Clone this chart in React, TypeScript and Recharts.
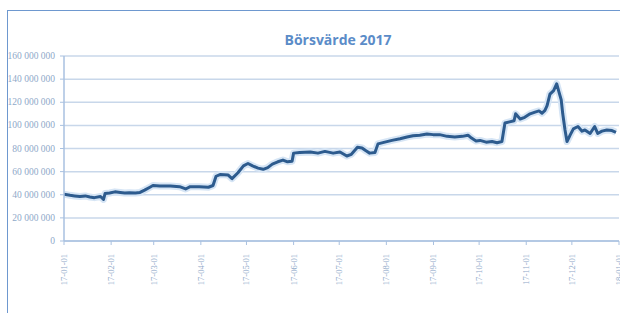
import React from 'react';
import { LineChart, Line, XAxis, YAxis, CartesianGrid } from 'recharts';

// Day of year (0 = 2017-01-01) and market value (SEK)
const days = [0, 4, 7, 10.5, 14, 17, 20, 24, 26, 27, 30, 33.5, 37, 40, 43, 47, 50, 53, 56.5, 58.5, 63, 70, 76, 80, 83, 89, 95, 98, 100, 102.6, 108, 110.5, 114.4, 118, 121, 124, 127.6, 131, 134, 137, 140.6, 144, 147, 150, 151, 155, 162, 167, 171.6, 177, 181.5, 186, 189, 193, 196, 198.6, 201, 204.5, 206.5, 211, 215.7, 221, 225.6, 229.5, 234, 238.7, 242.7, 247, 252, 257, 262, 265.7, 268, 271, 273.6, 277.6, 281.5, 284.8, 288, 290, 293, 296, 297, 300, 303, 306.5, 309.8, 312.4, 314.4, 316.3, 317.7, 319.6, 322, 324, 325.5, 327, 328, 329.5, 330.8, 333, 335, 338, 340.7, 342.6, 346, 349, 351, 353.8, 357, 360.4, 363];
const valuesM = [40.5, 39.5, 39, 38.5, 39, 38, 37.5, 38.5, 36, 41, 41.5, 42.5, 42, 41.5, 41.8, 41.5, 42, 44, 46.5, 48, 47.5, 47.5, 47, 45, 47, 47, 46.5, 48, 56, 57.5, 57, 54, 59, 65, 67, 65, 63, 62, 63.5, 66.5, 68.5, 70, 68.5, 69, 76, 76.5, 77, 76, 77.5, 76, 77, 73.5, 75, 81, 80.5, 78, 76, 76.5, 84, 85.5, 87, 88.5, 90, 91, 91.5, 92.5, 92, 92, 90.5, 90, 90.5, 91.5, 89, 86.5, 87, 85.5, 86, 85, 86, 102, 103, 104, 110, 105.5, 107, 110, 111.5, 112.5, 110.5, 113, 117, 127, 130, 136, 129, 122, 110, 96, 86, 92, 97, 99, 95, 96, 93, 99, 93, 95, 96, 95.5, 94];

const monthTicks = [0, 31, 59, 90, 120, 151, 181, 212, 243, 273, 304, 334, 365];
const monthLabels = ['17-01-01', '17-02-01', '17-03-01', '17-04-01', '17-05-01', '17-06-01', '17-07-01', '17-08-01', '17-09-01', '17-10-01', '17-11-01', '17-12-01', '18-01-01'];
const yTicks = [0, 20000000, 40000000, 60000000, 80000000, 100000000, 120000000, 140000000, 160000000];

const data = days.map((d, i) => ({ day: d, value: valuesM[i] * 1000000 }));

const fmtY = (v: number) => String(v).replace(/\B(?=(\d{3})+(?!\d))/g, ' ');

const XTick = (props: any) => {
  const { x, y, payload } = props;
  const idx = monthTicks.indexOf(payload.value);
  return (
    <text
      x={0}
      y={0}
      transform={`translate(${x + 3},${y + 7}) rotate(-90)`}
      textAnchor="end"
      fontSize={8.5}
      fill="#8FA9C9"
      fontFamily="Liberation Serif, serif"
    >
      {idx >= 0 ? monthLabels[idx] : ''}
    </text>
  );
};

const YTick = (props: any) => {
  const { x, y, payload } = props;
  return (
    <text x={x - 3} y={y + 3} textAnchor="end" fontSize={9.5} fill="#8FA9C9" fontFamily="Liberation Serif, serif">
      {fmtY(payload.value)}
    </text>
  );
};

export default function App() {
  return (
    <div style={{ position: 'fixed', left: 0, top: 0, width: 620, height: 313, background: '#fff', overflow: 'hidden' }}>
      <div style={{ position: 'absolute', left: 7, top: 10, width: 620, height: 310, borderTop: '1.5px solid #6E98CF', borderLeft: '1.5px solid #6E98CF' }} />
      <div style={{ position: 'absolute', left: 0, top: 0 }}>
        <LineChart width={620} height={313} data={data} margin={{ top: 56, right: 1, bottom: 0, left: 0 }}>
          <text x={338} y={45} textAnchor="middle" fontSize={14} fontWeight="bold" fill="#5B8CC8" fontFamily="Open Sans, sans-serif">
            Börsvärde 2017
          </text>
          <CartesianGrid vertical={false} stroke="#C8D7EA" strokeWidth={1.5} />
          <XAxis
            dataKey="day"
            type="number"
            domain={[0, 365]}
            ticks={monthTicks}
            interval={0}
            height={72}
            tick={<XTick />}
            axisLine={{ stroke: '#A9C1E0', strokeWidth: 1.5 }}
            tickLine={{ stroke: '#A9C1E0' }}
            tickSize={4}
            allowDataOverflow
          />
          <YAxis
            type="number"
            domain={[0, 160000000]}
            ticks={yTicks}
            interval={0}
            width={64}
            tick={<YTick />}
            axisLine={{ stroke: '#A9C1E0', strokeWidth: 1.5 }}
            tickLine={{ stroke: '#A9C1E0' }}
            tickSize={4}
          />
          <Line dataKey="value" type="linear" stroke="#D6E5F5" strokeWidth={7} dot={false} isAnimationActive={false} strokeLinejoin="round" />
          <Line dataKey="value" type="linear" stroke="#2D5B8E" strokeWidth={3} dot={false} isAnimationActive={false} strokeLinejoin="round" />
        </LineChart>
      </div>
    </div>
  );
}
